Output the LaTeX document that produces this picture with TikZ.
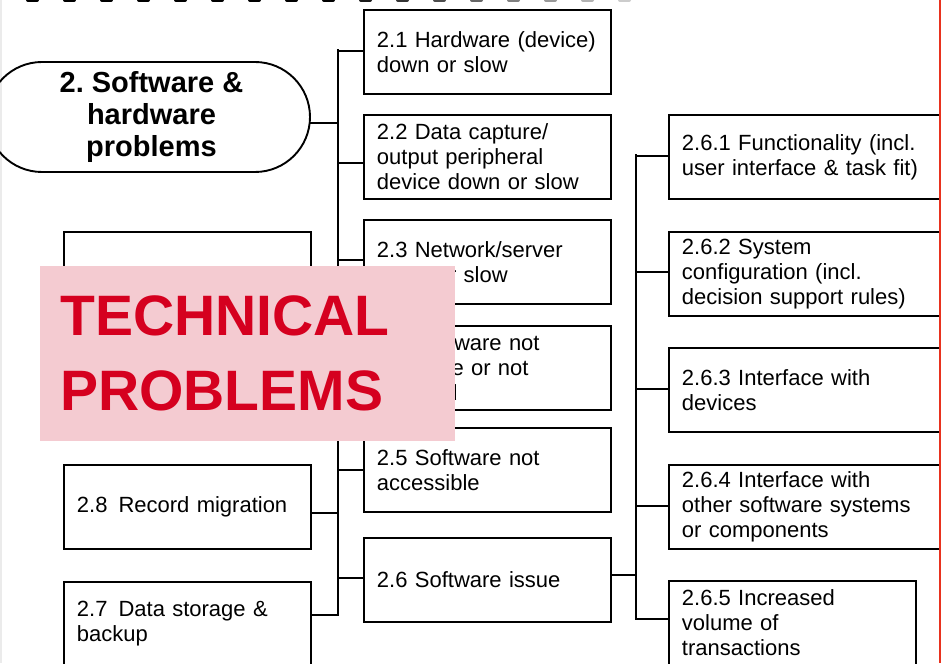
\documentclass[tikz,border=0pt]{standalone}
\usepackage{fontspec}
\setmainfont{Liberation Sans}
\usepackage{xcolor}
\usetikzlibrary{positioning, calc}
\definecolor{bannerfill}{HTML}{F4CBD1}
\definecolor{bannertext}{HTML}{D5001F}
\definecolor{edgered}{HTML}{E8321E}
\frenchspacing

\begin{document}
\begin{tikzpicture}[
    x=1pt, y=-1pt,
    wire/.style={line width=1.9pt, line cap=rect},
    item/.style={draw, line width=1.9pt, anchor=north west, rectangle,
      text width=221pt, inner xsep=13pt, inner ysep=0pt, minimum height=84pt,
      align=left, font=\fontsize{22}{25}\selectfont},
    wide/.style={item, text width=250pt},
    term/.style={draw, line width=1.9pt, rounded corners=55pt, minimum width=323pt,
      minimum height=110pt, align=center, inner sep=0pt,
      font=\fontsize{29}{32}\selectfont\bfseries},
    banner/.style={fill=bannerfill, anchor=north west, minimum width=415pt,
      minimum height=175pt, text width=375pt, inner xsep=20pt, align=left,
      text=bannertext, font=\fontsize{57}{75}\selectfont\bfseries}]

  \useasboundingbox (0,0) rectangle (941,663);
  \fill[white] (0,0) rectangle (941,663);

  % Page marks round the figure.
  \foreach \i in {0,...,16} {
    \pgfmathtruncatemacro\shade{100-max(0,\i-8)*10}
    \draw[line width=4pt, line cap=round, black!\shade] (28+37*\i,0) -- ++(9,0);
  }
  \draw[black!8, line width=2pt] (1,0) -- (1,663);

  % Root of the branch.
  \node[term] (root) at (148.5,117) {\hspace*{6pt}2. Software \&\\\hspace*{6pt}hardware\\\hspace*{6pt}problems};

  % Middle column.
  \node[item] (b21) at (363,9) {2.1 Hardware (device)\\down or slow};
  \node[item] (b22) at (363,114) {2.2 Data capture/\\output peripheral\\device down or slow};
  \node[item] (b23) at (363,219) {2.3 Network/server\\down or slow};
  \node[item] (b24) at (363,325) {2.4 Software not\\available or not\\installed};
  \node[item] (b25) at (363,427) {2.5 Software not\\accessible};
  \node[item] (b26) at (363,537) {2.6 Software issue};

  % Left column.
  \node[item] (b29) at (63,231) {};
  \node[item] (b28) at (63,464) {2.8\enspace Record migration};
  \node[item] (b27) at (63,581) {2.7\enspace Data storage \&\\backup};

  % Right column, under 2.6.
  \node[wide] (c1) at (668,114) {2.6.1 Functionality (incl.\\user interface \& task fit)};
  \node[wide] (c2) at (668,231) {2.6.2 System\\configuration (incl.\\decision support rules)};
  \node[wide] (c3) at (668,347) {2.6.3 Interface with\\devices};
  \node[wide] (c4) at (668,464) {2.6.4 Interface with\\other software systems\\or components};
  \node[item] (c5) at (668,580) {2.6.5 Increased\\volume of\\transactions};

  % Trunks.
  \coordinate (mtop) at (338,50);
  \coordinate (mbot) at (338,614);
  \coordinate (rtop) at (636,155);
  \coordinate (rbot) at (636,618);
  \draw[wire] (mtop) -- (mbot);
  \draw[wire] (rtop) -- (rbot);
  \draw[wire] ([yshift=-6pt]root.east) -- ([yshift=-6pt]root.east -| mtop);
  \foreach \b/\d in {b21/1, b22/-6, b23/2, b24/0, b25/0, b26/2}
    \draw[wire] ([yshift=\d pt]\b.west) -- ([yshift=\d pt]\b.west -| mtop);
  \foreach \b/\d in {b29/0, b28/-6, b27/9}
    \draw[wire] ([yshift=\d pt]\b.east) -- ([yshift=\d pt]\b.east -| mtop);
  \draw[wire] ([yshift=5pt]b26.east) -- ([yshift=5pt]b26.east -| rtop);
  \foreach \c/\d in {c1/1, c2/2, c3/1, c4/1, c5/4}
    \draw[wire] ([yshift=\d pt]\c.west) -- ([yshift=\d pt]\c.west -| rtop);

  % Label laid over the chart.
  \node[banner] (tag) at (40,266) {TECHNICAL\\PROBLEMS};

  \draw[edgered, line width=1.5pt] (940,0) -- (940,663);
\end{tikzpicture}
\end{document}
